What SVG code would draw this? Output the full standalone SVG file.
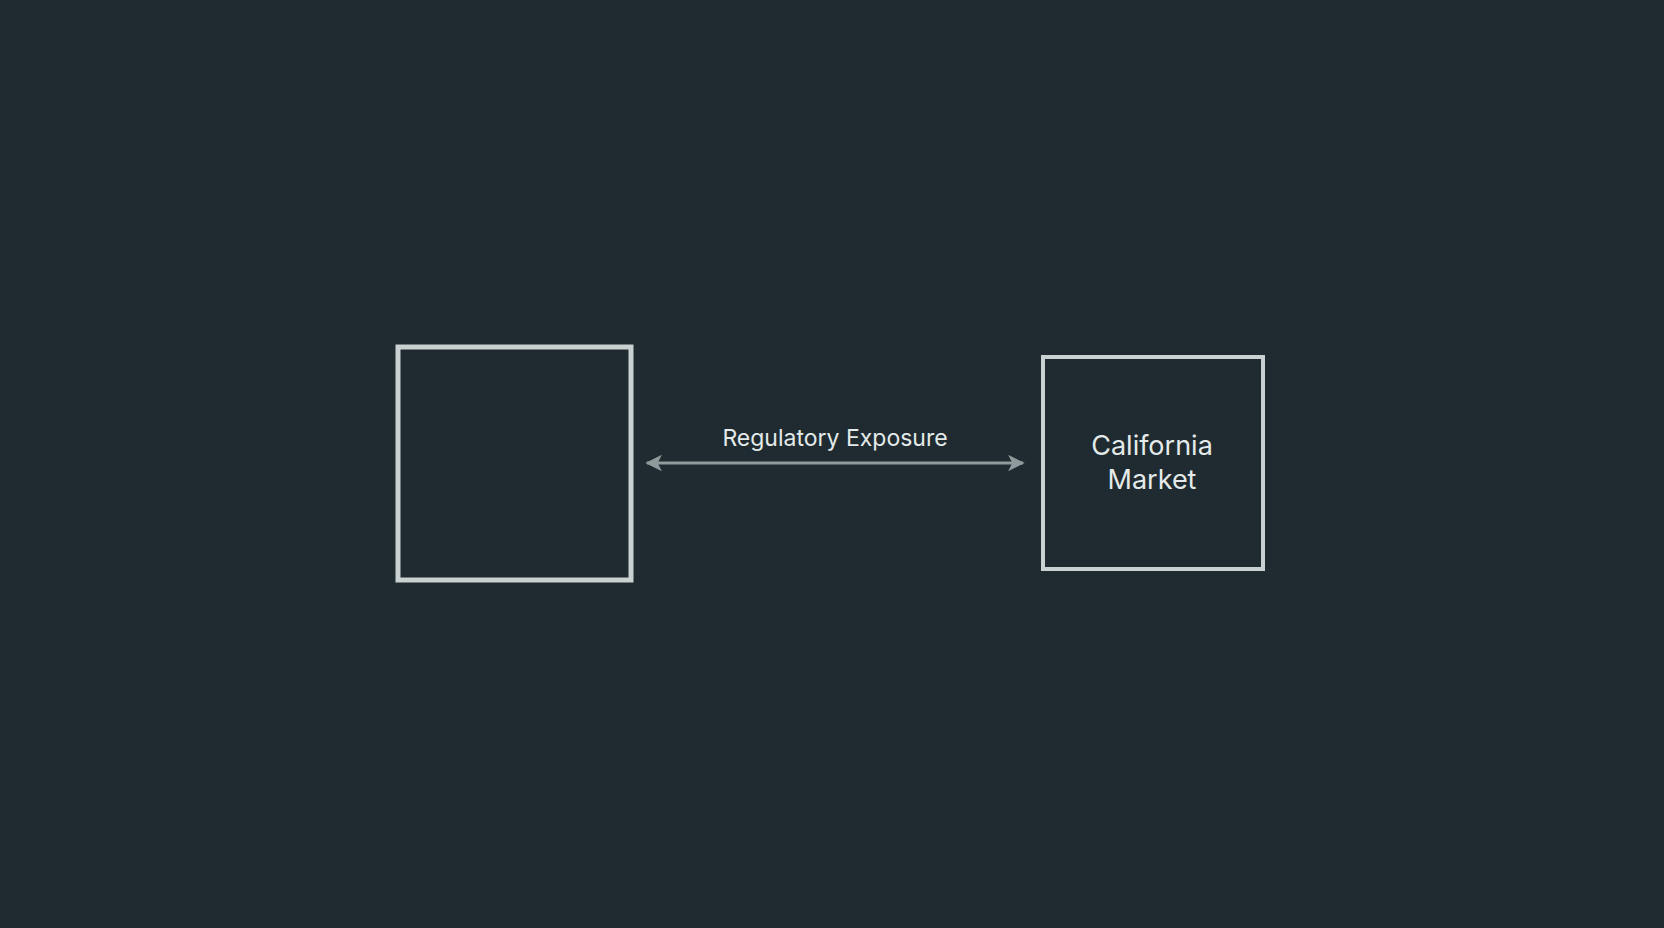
<svg xmlns="http://www.w3.org/2000/svg" width="1664" height="928" viewBox="0 0 1664 928">
<style>
.box{fill:none;stroke:#c9d1d1}
.lbl{font-family:Inter,"Liberation Sans",sans-serif;fill:#e4eaea;text-anchor:middle}
.conn{stroke:#8f9a9c;stroke-width:3;fill:none}
</style>
<defs>
<marker id="ah" viewBox="0 0 10 10" refX="9" refY="5" markerWidth="5.5" markerHeight="5.5" orient="auto-start-reverse" markerUnits="strokeWidth">
<path d="M0,0 L10,5 L0,10 L2.5,5 Z" fill="#8f9a9c"/>
</marker>
</defs>
<rect width="1664" height="928" fill="#1f2b30"/>
<g id="node-left">
<rect class="box" x="398" y="347" width="233" height="233" stroke-width="5"/>
</g>
<g id="node-california">
<rect class="box" x="1043" y="357" width="220" height="212" stroke-width="4"/>
<text class="lbl" x="1152" y="455" font-size="27">California</text>
<text class="lbl" x="1152" y="489" font-size="27">Market</text>
</g>
<g id="connectors">
<line class="conn" x1="647" y1="463" x2="1023" y2="463" marker-start="url(#ah)" marker-end="url(#ah)"/>
<text class="lbl" x="835" y="446" font-size="23">Regulatory Exposure</text>
</g>
</svg>
